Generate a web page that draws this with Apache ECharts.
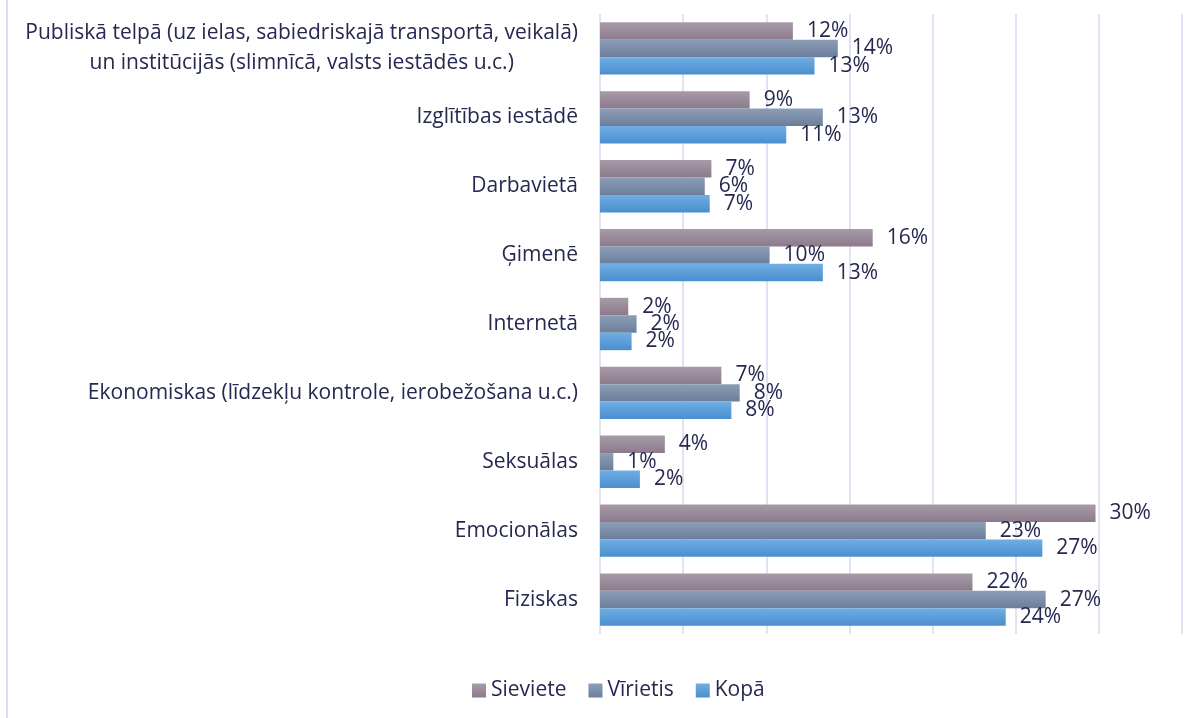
<!DOCTYPE html>
<html>
<head>
<meta charset="utf-8">
<script src="https://cdn.jsdelivr.net/npm/echarts@6/dist/echarts.min.js"></script>
<style>
  html, body { margin: 0; padding: 0; background: #fff; }
  #wrap { position: relative; width: 1198px; height: 718px; }
  #chart { width: 1198px; height: 718px; }
  #edge { position: absolute; left: 6px; top: 0; width: 2px; height: 718px; background: #dcdcf0; }
</style>
</head>
<body>
<div id="wrap">
  <div id="edge"></div>
  <div id="chart"></div>
</div>
<script>
// kategorijas no augšas uz leju
var categories = [
  "Publiskā telpā (uz ielas, sabiedriskajā transportā, veikalā)\nun institūcijās (slimnīcā, valsts iestādēs u.c.)",
  "Izglītības iestādē",
  "Darbavietā",
  "Ģimenē",
  "Internetā",
  "Ekonomiskas (līdzekļu kontrole, ierobežošana u.c.)",
  "Seksuālas",
  "Emocionālas",
  "Fiziskas"
];
var seriesNames = ["Sieviete", "Vīrietis", "Kopā"];
// vērtības procentos
var sieviete = [11.6, 9.0, 6.7, 16.4, 1.7, 7.3, 3.9, 29.8, 22.4];
var virietis = [14.3, 13.4, 6.3, 10.2, 2.2, 8.4, 0.8, 23.2, 26.8];
var kopa = [12.9, 11.2, 6.6, 13.4, 1.9, 7.9, 2.4, 26.6, 24.4];

var textColor = "#252850";
var fontName = "Open Sans";
var fontSize = 21;

function grad(top, bottom) {
  return new echarts.graphic.LinearGradient(0, 0, 0, 1, [
    { offset: 0, color: top },
    { offset: 1, color: bottom }
  ]);
}

var colors = [
  grad("#a89ba9", "#8b7a8b"),
  grad("#8c9eb7", "#6b7d99"),
  grad("#70aee3", "#4a8ecf")
];

function makeSeries(name, data, color) {
  return {
    name: name,
    type: "bar",
    data: data,
    barGap: "0%",
    barCategoryGap: "24%",
    itemStyle: { color: color },
    label: {
      show: true,
      position: "right",
      distance: 14,
      color: textColor,
      fontFamily: fontName,
      fontSize: fontSize,
      formatter: function (p) {
        return Math.round(p.value) + "%";
      }
    }
  };
}

var chart = echarts.init(document.getElementById("chart"));
chart.setOption({
  animation: false,
  textStyle: { fontFamily: fontName },
  grid: { left: 600, right: 16, top: 14, bottom: 84 },
  legend: {
    data: seriesNames,
    left: 467,
    top: 675,
    itemWidth: 14,
    itemHeight: 14,
    itemGap: 22,
    icon: "rect",
    textStyle: { color: textColor, fontSize: fontSize, fontFamily: fontName }
  },
  xAxis: {
    type: "value",
    min: 0,
    max: 35,
    interval: 5,
    axisLabel: { show: false },
    axisTick: { show: false },
    axisLine: { show: false },
    splitLine: { show: true, lineStyle: { color: "#d9d9ef", width: 1.5 } }
  },
  yAxis: {
    type: "category",
    inverse: true,
    data: categories,
    axisTick: { show: false },
    axisLine: { show: false },
    axisLabel: {
      margin: 22,
      color: textColor,
      fontFamily: fontName,
      fontSize: fontSize,
      lineHeight: 30,
      formatter: function (v) {
        return v.split("\n").map(function (s) { return "{c|" + s + "}"; }).join("\n");
      },
      rich: {
        c: { align: "center", color: textColor, fontFamily: fontName, fontSize: fontSize, lineHeight: 30 }
      }
    }
  },
  series: [
    makeSeries(seriesNames[0], sieviete, colors[0]),
    makeSeries(seriesNames[1], virietis, colors[1]),
    makeSeries(seriesNames[2], kopa, colors[2])
  ]
});
</script>
</body>
</html>
